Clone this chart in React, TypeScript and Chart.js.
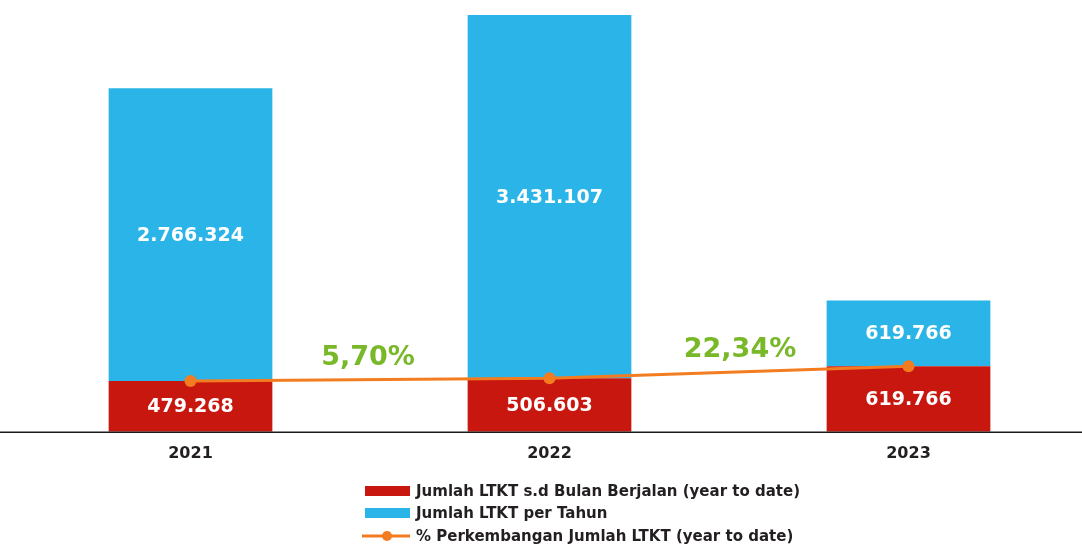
import React, { useEffect, useRef } from "react";
import { Chart, registerables } from "chart.js";

Chart.register(...registerables);

const categories = ["2021", "2022", "2023"];
const ytdValues = [479268, 506603, 619766];
const yearValues = [2766324, 3431107, 619766];
const pctLabels = ["5,70%", "22,34%"];
const seriesNames = [
  "Jumlah LTKT s.d Bulan Berjalan (year to date)",
  "Jumlah LTKT per Tahun",
  "% Perkembangan Jumlah LTKT (year to date)",
];

const RED = "#c8170f";
const BLUE = "#2bb4e7";
const ORANGE = "#f47c20";
const GREEN = "#79b829";
const DARK = "#231f20";
const FONT = "'DejaVu Sans'";
const PCT_SHIFT = [-2, 11];

const fmt = (v: number) => v.toLocaleString("de-DE");

const overlayPlugin = {
  id: "overlay",
  afterDraw(chart: any) {
    const ctx = chart.ctx;
    const area = chart.chartArea;
    ctx.save();
    // axis line across the full width
    ctx.strokeStyle = "#1a1a1a";
    ctx.lineWidth = 1.5;
    ctx.beginPath();
    ctx.moveTo(0, area.bottom + 0.5);
    ctx.lineTo(chart.width, area.bottom + 0.5);
    ctx.stroke();

    // value labels in bars
    ctx.fillStyle = "#ffffff";
    ctx.font = `700 19px ${FONT}`;
    ctx.textAlign = "center";
    ctx.textBaseline = "middle";
    [0, 1].forEach((di) => {
      const meta = chart.getDatasetMeta(di);
      const ds = chart.data.datasets[di];
      meta.data.forEach((el: any, i: number) => {
        const cy = (el.y + el.base) / 2;
        ctx.fillText(fmt(ds.data[i] as number), el.x, cy + 1);
      });
    });

    // percentage labels between line points
    const lm = chart.getDatasetMeta(2);
    ctx.fillStyle = GREEN;
    ctx.font = `700 27px ${FONT}`;
    pctLabels.forEach((t, i) => {
      const a = lm.data[i];
      const b = lm.data[i + 1];
      if (!a || !b) return;
      const x = (a.x + b.x) / 2 + (PCT_SHIFT[i] || 0);
      const y = (a.y + b.y) / 2 - 22;
      ctx.fillText(t, x, y);
    });

    // legend
    const lx = 365;
    const tx = 416;
    const rows = [491, 513, 536];
    ctx.textAlign = "left";
    ctx.font = `700 15px ${FONT}`;
    rows.forEach((ry, i) => {
      if (i === 0 || i === 1) {
        ctx.fillStyle = i === 0 ? RED : BLUE;
        ctx.fillRect(lx, ry - 5, 45, 10);
      } else {
        ctx.strokeStyle = ORANGE;
        ctx.lineWidth = 3;
        ctx.beginPath();
        ctx.moveTo(lx - 3, ry);
        ctx.lineTo(lx + 45, ry);
        ctx.stroke();
        ctx.fillStyle = ORANGE;
        ctx.beginPath();
        ctx.arc(lx + 22, ry, 5, 0, Math.PI * 2);
        ctx.fill();
      }
      ctx.fillStyle = DARK;
      ctx.fillText(seriesNames[i], tx, ry + 1);
    });
    ctx.restore();
  },
};

export default function App() {
  const ref = useRef<HTMLCanvasElement | null>(null);
  useEffect(() => {
    if (!ref.current) return;
    const chart = new Chart(ref.current, {
      type: "bar",
      data: {
        labels: categories,
        datasets: [
          {
            type: "bar",
            label: seriesNames[0],
            data: ytdValues,
            backgroundColor: RED,
            stack: "s",
            order: 2,
            categoryPercentage: 1,
            barPercentage: 0.456,
          },
          {
            type: "bar",
            label: seriesNames[1],
            data: yearValues,
            backgroundColor: BLUE,
            stack: "s",
            order: 2,
            categoryPercentage: 1,
            barPercentage: 0.456,
          },
          {
            type: "line",
            label: seriesNames[2],
            data: ytdValues,
            borderColor: ORANGE,
            backgroundColor: ORANGE,
            borderWidth: 3,
            pointRadius: 6,
            pointBackgroundColor: ORANGE,
            pointBorderWidth: 0,
            stack: "line",
            order: 0,
          } as any,
        ],
      },
      options: {
        animation: false,
        responsive: false,
        maintainAspectRatio: false,
        layout: { padding: { left: 11, right: 0, top: 15, bottom: 74 } },
        plugins: { legend: { display: false }, tooltip: { enabled: false } },
        scales: {
          x: {
            stacked: true,
            grid: { display: false, drawTicks: false },
            border: { display: false },
            ticks: {
              color: DARK,
              padding: 12,
              font: { family: FONT, weight: "bold", size: 16 },
            },
          },
          y: {
            stacked: true,
            display: false,
            min: 0,
            max: 3937710,
          },
        },
      },
      plugins: [overlayPlugin],
    });
    return () => chart.destroy();
  }, []);
  return (
    <div
      style={{
        position: "absolute",
        left: 0,
        top: 0,
        width: 1082,
        height: 549,
        overflow: "hidden",
        background: "#fff",
      }}
    >
      <canvas ref={ref} width={1094} height={549} style={{ width: 1094, height: 549 }} />
    </div>
  );
}
